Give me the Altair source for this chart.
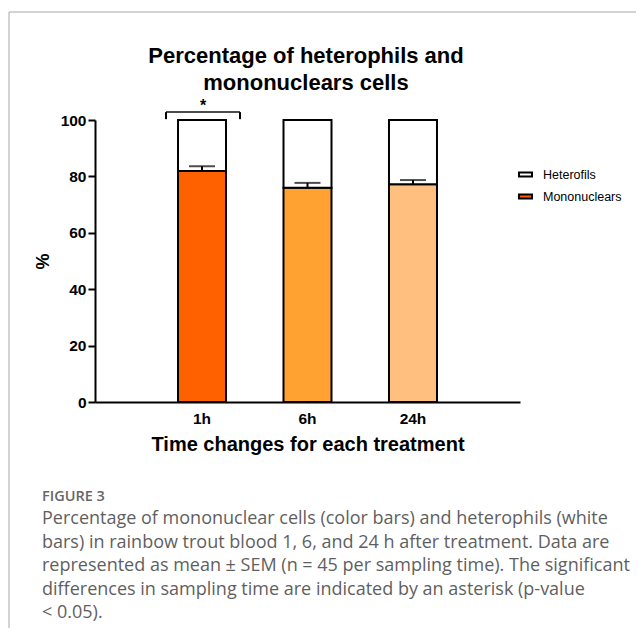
import altair as alt
import pandas as pd

# ---- data ----
times = ["1h", "6h", "24h"]
mono_mean = [81.9, 76.0, 77.2]
mono_sem = [1.7, 1.7, 1.5]
mono_keys = ["Mononuclears", "Mononuclears 6h", "Mononuclears 24h"]
fill_domain = ["Heterofils", "Mononuclears", "Mononuclears 6h", "Mononuclears 24h"]
fill_range = ["#FFFFFF", "#FF6000", "#FFA231", "#FFC07F"]
legend_values = ["Heterofils", "Mononuclears"]
sig_time = ["1h"]
sig_label = ["*"]
sig_level = [102.8]
sig_foot = [100.3]

title_lines = ["Percentage of heterophils and", "mononuclears cells"]
x_title = "Time changes for each treatment"
y_title = "%"
fig_label = "FIGURE 3"
caption_lines = [
    "Percentage of mononuclear cells (color bars) and heterophils (white",
    "bars) in rainbow trout blood 1, 6, and 24 h after treatment. Data are",
    "represented as mean \u00b1 SEM (n = 45 per sampling time). The significant",
    "differences in sampling time are indicated by an asterisk (p-value",
    "< 0.05).",
]

rows = []
for t, m, k in zip(times, mono_mean, mono_keys):
    rows.append({"time": t, "lo": 0.0, "hi": m, "key": k})
    rows.append({"time": t, "lo": m, "hi": 100.0, "key": "Heterofils"})
bars_df = pd.DataFrame(rows)
err_df = pd.DataFrame({"time": times, "mean": mono_mean,
                       "top": [m + s for m, s in zip(mono_mean, mono_sem)]})
sig_df = pd.DataFrame({"time": sig_time, "label": sig_label,
                       "level": sig_level, "foot": sig_foot})
one = pd.DataFrame({"a": [0]})

FONT = "Liberation Sans"
W, H = 425, 282

x_enc = alt.X("time:N", sort=times,
              scale=alt.Scale(domain=times, paddingInner=0.545, paddingOuter=0.787),
              axis=alt.Axis(title=x_title, labelAngle=0, ticks=False, labelPadding=9,
                            titlePadding=8, titleFontSize=20))
y_scale = alt.Scale(domain=[0, 100], nice=False)

bars = alt.Chart(bars_df).mark_bar(stroke="black", strokeWidth=2).encode(
    x=x_enc,
    y=alt.Y("lo:Q", scale=y_scale,
            axis=alt.Axis(title=y_title, values=[0, 20, 40, 60, 80, 100], tickSize=7,
                          labelPadding=2, titlePadding=8, titleFontSize=18)),
    y2="hi:Q",
    fill=alt.Fill("key:N", scale=alt.Scale(domain=fill_domain, range=fill_range),
                  legend=alt.Legend(orient="none", legendX=423, legendY=47, title=None,
                                    values=legend_values,
                                    symbolType="M-1,-0.3H1V0.3H-1Z", symbolSize=169,
                                    symbolStrokeColor="black", symbolStrokeWidth=2,
                                    labelFont=FONT, labelFontSize=12.5, labelColor="black",
                                    labelOffset=10, rowPadding=8, padding=0)),
)

err_rule = alt.Chart(err_df).mark_rule(color="black", strokeWidth=2).encode(
    x=alt.X("time:N", sort=times), y="mean:Q", y2="top:Q")
err_cap = alt.Chart(err_df).mark_tick(color="black", thickness=2, size=26).encode(
    x=alt.X("time:N", sort=times), y="top:Q")

br_h = alt.Chart(sig_df).mark_tick(color="black", thickness=2, size=74, xOffset=1).encode(
    x=alt.X("time:N", sort=times), y="level:Q")
br_l = alt.Chart(sig_df).mark_rule(color="black", strokeWidth=2, xOffset=-36).encode(
    x=alt.X("time:N", sort=times), y="level:Q", y2="foot:Q")
br_r = alt.Chart(sig_df).mark_rule(color="black", strokeWidth=2, xOffset=38).encode(
    x=alt.X("time:N", sort=times), y="level:Q", y2="foot:Q")
star = alt.Chart(sig_df).mark_text(font=FONT, fontSize=16, fontWeight="bold",
                                   baseline="middle", dy=-6, dx=1).encode(
    x=alt.X("time:N", sort=times), y="level:Q", text="label:N")

title = alt.Chart(one).mark_text(font=FONT, fontSize=22, fontWeight="bold", align="center",
                                 baseline="alphabetic", lineHeight=27, color="black").encode(
    x=alt.value(211), y=alt.value(-57), text=alt.value(title_lines))

fig = alt.Chart(one).mark_text(font="Open Sans", fontSize=14.5, fontWeight=600, align="left",
                               baseline="alphabetic", color="#666666").encode(
    x=alt.value(-53), y=alt.value(381), text=alt.value(fig_label))
cap = alt.Chart(one).mark_text(font="Open Sans", fontSize=18, align="left",
                               baseline="alphabetic", lineHeight=23.5, color="#5f5f5f").encode(
    x=alt.value(-53), y=alt.value(404), text=alt.value(caption_lines))

border_top = alt.Chart(one).mark_rule(color="#a8a8a8", strokeWidth=1).encode(
    x=alt.value(-86), x2=alt.value(560), y=alt.value(-108))
border_left = alt.Chart(one).mark_rule(color="#a8a8a8", strokeWidth=1).encode(
    x=alt.value(-86), y=alt.value(-108), y2=alt.value(540))

chart = alt.layer(
    border_top, border_left, bars, err_rule, err_cap, br_h, br_l, br_r, star,
    title, fig, cap
).properties(
    width=W, height=H,
    autosize=alt.AutoSizeParams(type="none"),
    padding={"left": 87, "top": 112, "right": 116, "bottom": 226},
).configure_view(stroke=None).configure_axis(
    domainColor="black", domainWidth=2, tickColor="black", tickWidth=2, grid=False,
    labelFont=FONT, labelFontWeight="bold", labelFontSize=15.5, labelColor="black",
    titleFont=FONT, titleFontWeight="bold", titleColor="black",
)

chart.save("out.html", embed_options={"renderer": "svg", "actions": False})
